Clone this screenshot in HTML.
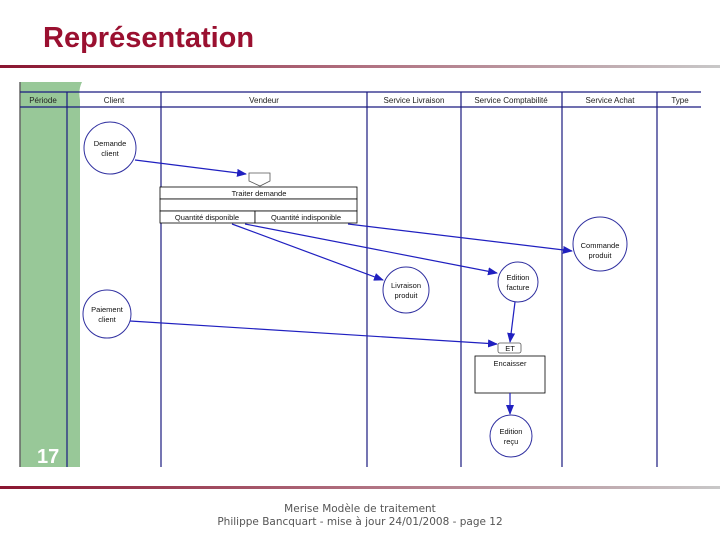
<!DOCTYPE html>
<html><head><meta charset="utf-8"><style>
body{margin:0;width:720px;height:540px;background:#fff;overflow:hidden;font-family:"Liberation Sans",sans-serif}
</style></head><body>
<svg width="720" height="540" xmlns="http://www.w3.org/2000/svg" font-family="Liberation Sans, sans-serif">
<defs>
<linearGradient id="g" x1="0" x2="1"><stop offset="0" stop-color="#8a1530"/><stop offset="0.5" stop-color="#b07080"/><stop offset="1" stop-color="#c8c8c8"/></linearGradient>
<marker id="a" markerWidth="10" markerHeight="8" refX="9" refY="4" orient="auto" markerUnits="userSpaceOnUse"><path d="M0,0 L10,4 L0,8 Z" fill="#2020c0"/></marker>
</defs>
<text x="43" y="47" font-size="29" font-weight="bold" fill="#9a1030">Représentation</text>
<rect x="0" y="65" width="720" height="3" fill="url(#g)"/>
<rect x="0" y="486" width="720" height="3" fill="url(#g)"/>
<path d="M20,82 L82,82 Q78,90 80,100 L80,467 L20,467 Z" fill="#98c898"/>
<line x1="20" y1="82" x2="20" y2="467" stroke="#666" stroke-width="1.5"/>
<g stroke="#1a1a80" stroke-width="1.2" fill="none">
<line x1="20" y1="92" x2="701" y2="92"/>
<line x1="20" y1="107" x2="701" y2="107"/>
<line x1="67" y1="92" x2="67" y2="467"/>
<line x1="161" y1="92" x2="161" y2="467"/>
<line x1="367" y1="92" x2="367" y2="467"/>
<line x1="461" y1="92" x2="461" y2="467"/>
<line x1="562" y1="92" x2="562" y2="467"/>
<line x1="657" y1="92" x2="657" y2="467"/>
</g>
<g font-size="8" fill="#222" text-anchor="middle">
<text x="43" y="103">Période</text>
<text x="114" y="103">Client</text>
<text x="264" y="103">Vendeur</text>
<text x="414" y="103">Service Livraison</text>
<text x="511" y="103">Service Comptabilité</text>
<text x="610" y="103">Service Achat</text>
<text x="680" y="103">Type</text>
</g>
<g stroke="#3030a0" stroke-width="1" fill="#fff">
<circle cx="110" cy="148" r="26"/>
<circle cx="107" cy="314" r="24"/>
<circle cx="600" cy="244" r="27"/>
<circle cx="518" cy="282" r="20"/>
<circle cx="406" cy="290" r="23"/>
<circle cx="511" cy="436" r="21"/>
</g>
<g stroke="#000" stroke-width="0.8" fill="#fff">
<path d="M249,173 L270,173 L270,181 L260,186 L249,181 Z" stroke="#555"/>
<rect x="160" y="187" width="197" height="12"/>
<rect x="160" y="199" width="197" height="12"/>
<rect x="160" y="211" width="95" height="12"/>
<rect x="255" y="211" width="102" height="12"/>
<rect x="498" y="343" width="23" height="10" rx="2" stroke="#555"/>
<rect x="475" y="356" width="70" height="37"/>
</g>
<g font-size="7.5" fill="#111" text-anchor="middle">
<text x="110" y="146">Demande</text><text x="110" y="156">client</text>
<text x="107" y="312">Paiement</text><text x="107" y="322">client</text>
<text x="600" y="248">Commande</text><text x="600" y="258">produit</text>
<text x="518" y="280">Edition</text><text x="518" y="290">facture</text>
<text x="406" y="288">Livraison</text><text x="406" y="298">produit</text>
<text x="511" y="434">Edition</text><text x="511" y="444">reçu</text>
<text x="259" y="196">Traiter demande</text>
<text x="207" y="220">Quantité disponible</text>
<text x="306" y="220">Quantité indisponible</text>
<text x="510" y="351">ET</text>
<text x="510" y="366">Encaisser</text>
</g>
<g stroke="#2020c0" stroke-width="1.2" fill="none" marker-end="url(#a)">
<line x1="135" y1="160" x2="246" y2="174"/>
<line x1="232" y1="224" x2="383" y2="280"/>
<line x1="245" y1="224" x2="497" y2="273"/>
<line x1="348" y1="224" x2="572" y2="251"/>
<line x1="130" y1="321" x2="497" y2="344"/>
<line x1="515" y1="302" x2="510" y2="342"/>
<line x1="510" y1="393" x2="510" y2="414"/>
</g>
<text x="37" y="463" font-size="20" font-weight="bold" fill="#fff">17</text>
<g font-size="11" fill="#555" text-anchor="middle" font-family="DejaVu Sans, sans-serif">
<text x="360" y="512" font-size="10.5">Merise Modèle de traitement</text>
<text x="360" y="525" font-size="10.5">Philippe Bancquart - mise à jour 24/01/2008 - page 12</text>
</g>
</svg>
</body></html>
